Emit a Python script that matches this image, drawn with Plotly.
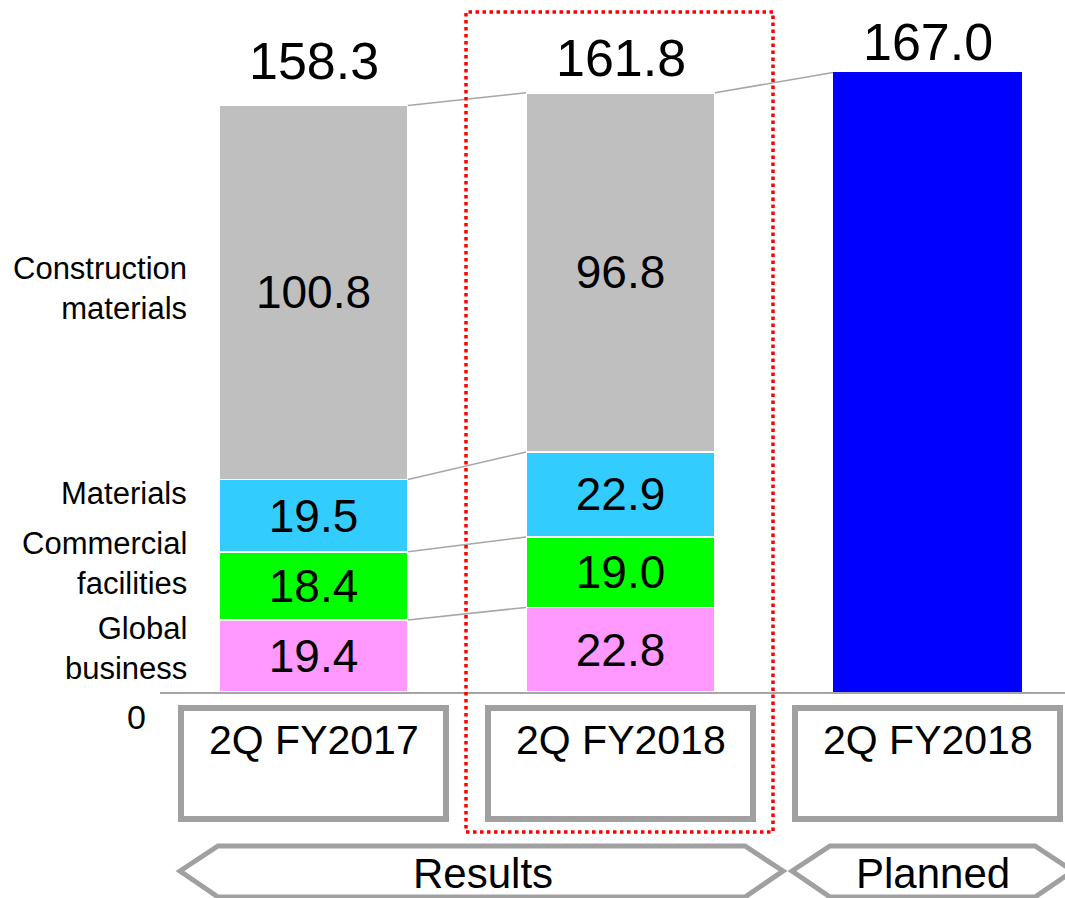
import plotly.graph_objects as go

# ---------------- data ----------------
categories = ["2Q FY2017", "2Q FY2018", "2Q FY2018"]
group_names = ["Results", "Planned"]
segment_names = ["Global business", "Commercial facilities", "Materials", "Construction materials"]
segment_label_text = ["Global<br>business", "Commercial<br>facilities", "Materials", "Construction<br>materials"]
global_business = [19.4, 22.8, None]
commercial_facilities = [18.4, 19.0, None]
materials = [19.5, 22.9, None]
construction_materials = [100.8, 96.8, None]
planned_total = [None, None, 167.0]
totals = [158.3, 161.8, 167.0]

segment_values = [global_business, commercial_facilities, materials, construction_materials]
segment_colors = ["#FF99FF", "#00FF00", "#33CCFF", "#BFBFBF"]
planned_color = "#0000FF"

# ---------------- geometry (pixels) ----------------
W, H = 1065, 898
PL, PR, PT, PB = 160, 1065, 0, 692
PX_PER_CAT = 307.0
PX_PER_UNIT = 3.71
BAR_W = 189 / PX_PER_CAT
FONT = "Liberation Sans, Arial, sans-serif"
GRAY = "#A0A0A0"

def pxx(px):
    return (px - PL) / (PR - PL)

def pxy(py):
    return (PB - py) / (PB - PT)

xs = list(range(len(categories)))

fig = go.Figure()
for name, vals, col in zip(segment_names, segment_values, segment_colors):
    fig.add_trace(go.Bar(
        x=xs, y=vals, name=name, width=BAR_W,
        marker=dict(color=col, line=dict(color="white", width=1.5)),
        texttemplate="%{y:.1f}", textposition="inside", insidetextanchor="middle",
        textangle=0, constraintext="none",
        textfont=dict(family=FONT, size=46, color="black"),
        hoverinfo="skip",
    ))
fig.add_trace(go.Bar(
    x=xs, y=planned_total, name="Planned", width=BAR_W,
    marker=dict(color=planned_color, line=dict(width=0)),
    hoverinfo="skip",
))

shapes = []
annotations = []

# connector lines between stacked segment tops
def cumsums(i):
    out, s = [], 0.0
    for vals in segment_values:
        v = vals[i]
        if v is None:
            return None
        s += v
        out.append(s)
    return out

c0, c1 = cumsums(0), cumsums(1)
for a, b in zip(c0, c1):
    shapes.append(dict(type="line", xref="x", yref="y",
                       x0=0 + BAR_W / 2, y0=a, x1=1 - BAR_W / 2, y1=b,
                       line=dict(color="#A6A6A6", width=1.5)))
shapes.append(dict(type="line", xref="x", yref="y",
                   x0=1 + BAR_W / 2, y0=c1[-1], x1=2 - BAR_W / 2, y1=planned_total[2],
                   line=dict(color="#A6A6A6", width=1.5)))

# total labels
total_shift = [44, 34, 30]
for i, t in enumerate(totals):
    annotations.append(dict(x=xs[i], y=t, xref="x", yref="y", text=f"{t:.1f}",
                            showarrow=False, xanchor="center", yanchor="middle",
                            yshift=total_shift[i],
                            font=dict(family=FONT, size=52, color="black")))

# category boxes + labels
box_half = 132.5 / PX_PER_CAT
for i, c in enumerate(categories):
    shapes.append(dict(type="rect", xref="x", yref="paper",
                       x0=xs[i] - box_half, x1=xs[i] + box_half,
                       y0=pxy(819), y1=pxy(708),
                       line=dict(color=GRAY, width=6), fillcolor="rgba(0,0,0,0)"))
    annotations.append(dict(x=xs[i], y=pxy(740), xref="x", yref="paper", text=c,
                            showarrow=False, xanchor="center", yanchor="middle",
                            font=dict(family=FONT, size=41, color="black")))

# red dotted highlight around 2Q FY2018 results
shapes.append(dict(type="rect", xref="paper", yref="paper",
                   x0=pxx(466), x1=pxx(773), y0=pxy(832), y1=pxy(12),
                   line=dict(color="#FF0000", width=3.5, dash="dot"),
                   fillcolor="rgba(0,0,0,0)"))

# group arrows (hexagons)
def hexpath(xl, xr, ymid, ytop, ybot, notch):
    pts = [(xl, ymid), (xl + notch, ytop), (xr - notch, ytop), (xr, ymid),
           (xr - notch, ybot), (xl + notch, ybot)]
    return "M " + " L ".join(f"{pxx(x):.5f},{pxy(y):.5f}" for x, y in pts) + " Z"

arrow_spans = [(180, 783), (792, 1073)]
group_label_px = [483, 933]
for (xl, xr), gname, lx in zip(arrow_spans, group_names, group_label_px):
    shapes.append(dict(type="path", xref="paper", yref="paper",
                       path=hexpath(xl, xr, 871, 846, 897, 38),
                       line=dict(color=GRAY, width=5), fillcolor="white"))
    annotations.append(dict(x=pxx(lx), y=pxy(873),
                            xref="paper", yref="paper", text=gname, showarrow=False,
                            xanchor="center", yanchor="middle",
                            font=dict(family=FONT, size=42, color="black")))

# segment labels on the left
seg_label_py = [648, 563, 493, 288]
for txt, py in zip(segment_label_text, seg_label_py):
    annotations.append(dict(x=pxx(189), y=pxy(py), xref="paper", yref="paper",
                            text=txt, showarrow=False, xanchor="right", yanchor="middle",
                            align="right", font=dict(family=FONT, size=31, color="black")))

# zero label
annotations.append(dict(x=pxx(136), y=pxy(717), xref="paper", yref="paper", text="0",
                        showarrow=False, xanchor="center", yanchor="middle",
                        font=dict(family=FONT, size=34, color="black")))

fig.update_layout(
    width=W, height=H, barmode="stack", showlegend=False,
    margin=dict(l=PL, r=W - PR, t=PT, b=H - PB, pad=0),
    paper_bgcolor="white", plot_bgcolor="white",
    xaxis=dict(range=[-0.5, -0.5 + (PR - PL) / PX_PER_CAT], showgrid=False,
               zeroline=False, showticklabels=False, ticks="",
               showline=True, linecolor="#A6A6A6", linewidth=1.5, fixedrange=True),
    yaxis=dict(range=[0, (PB - PT) / PX_PER_UNIT], visible=False, fixedrange=True),
    shapes=shapes, annotations=annotations, hovermode=False,
)

fig.write_html("out.html")
